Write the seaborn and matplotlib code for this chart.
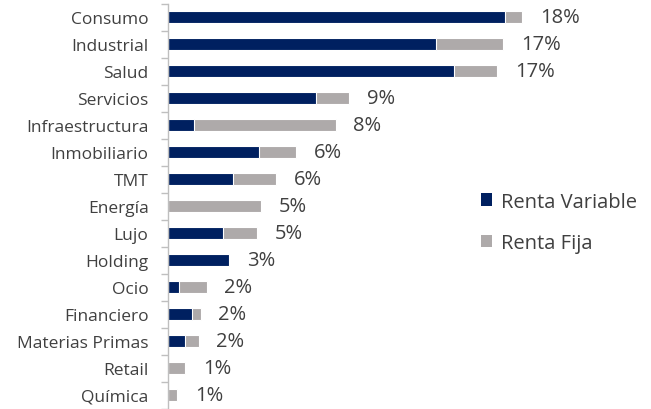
import numpy as np
import pandas as pd
import matplotlib
matplotlib.use("Agg")
import matplotlib.pyplot as plt
import seaborn as sns
from matplotlib.patches import Patch

categories = ["Consumo", "Industrial", "Salud", "Servicios", "Infraestructura",
              "Inmobiliario", "TMT", "Energía", "Lujo", "Holding", "Ocio",
              "Financiero", "Materias Primas", "Retail", "Química"]
renta_variable = [17.1, 13.6, 14.5, 7.5, 1.3, 4.6, 3.3, 0.0, 2.8, 3.1, 0.56, 1.2, 0.86, 0.0, 0.0]
renta_fija = [0.86, 3.4, 2.2, 1.7, 7.2, 1.9, 2.2, 4.7, 1.7, 0.0, 1.4, 0.46, 0.7, 0.86, 0.46]
total_labels = ["18%", "17%", "17%", "9%", "8%", "6%", "6%", "5%", "5%", "3%",
                "2%", "2%", "2%", "1%", "1%"]

NAVY = "#002060"
GRAY = "#AEAAAA"
TXT = "#404040"

sns.set_theme(style="white")
plt.rcParams["font.family"] = ["Open Sans", "DejaVu Sans"]

df = pd.DataFrame({
    "cat": categories,
    "rv": renta_variable,
    "rf": renta_fija,
})
df["total"] = df["rv"] + df["rf"]

fig = plt.figure(figsize=(6.51, 4.10), dpi=100)
ax = fig.add_axes([168 / 651, 0.5 / 410, 473 / 651, 405 / 410])

sns.barplot(data=df, y="cat", x="total", color=GRAY, orient="h", width=0.46,
            saturation=1, edgecolor="white", linewidth=0.8, ax=ax)
sns.barplot(data=df, y="cat", x="rv", color=NAVY, orient="h", width=0.46,
            saturation=1, edgecolor="white", linewidth=0.8, ax=ax)

ax.set_xlim(0, 24)
ax.set_ylim(len(categories) - 0.5, -0.5)
ax.set_xlabel("")
ax.set_ylabel("")
ax.set_xticks([])

for i, (t, lab) in enumerate(zip(df["total"], total_labels)):
    ax.text(t + 0.9, i, lab, va="center", ha="left", fontsize=14.5, color=TXT)

ax.tick_params(axis="y", which="major", length=0, labelsize=12.5, labelcolor=TXT, pad=14)
ax.set_yticks(np.arange(-0.5, len(categories) + 0.5, 1), minor=True)
ax.tick_params(axis="y", which="minor", length=5, color="#BFBFBF", width=1, left=True)

for s in ["top", "right", "bottom"]:
    ax.spines[s].set_visible(False)
ax.spines["left"].set_color("#BFBFBF")
ax.spines["left"].set_linewidth(1)

handles = [Patch(facecolor=NAVY, edgecolor="none"), Patch(facecolor=GRAY, edgecolor="none")]
leg = ax.legend(handles, ["Renta Variable", "Renta Fija"], loc="center left",
                bbox_to_anchor=(0.623, 0.46), frameon=False, fontsize=14.5,
                handlelength=0.55, handleheight=0.55, handletextpad=0.45, labelspacing=1.05,
                labelcolor=TXT)

fig.savefig("out.png", dpi=100)
